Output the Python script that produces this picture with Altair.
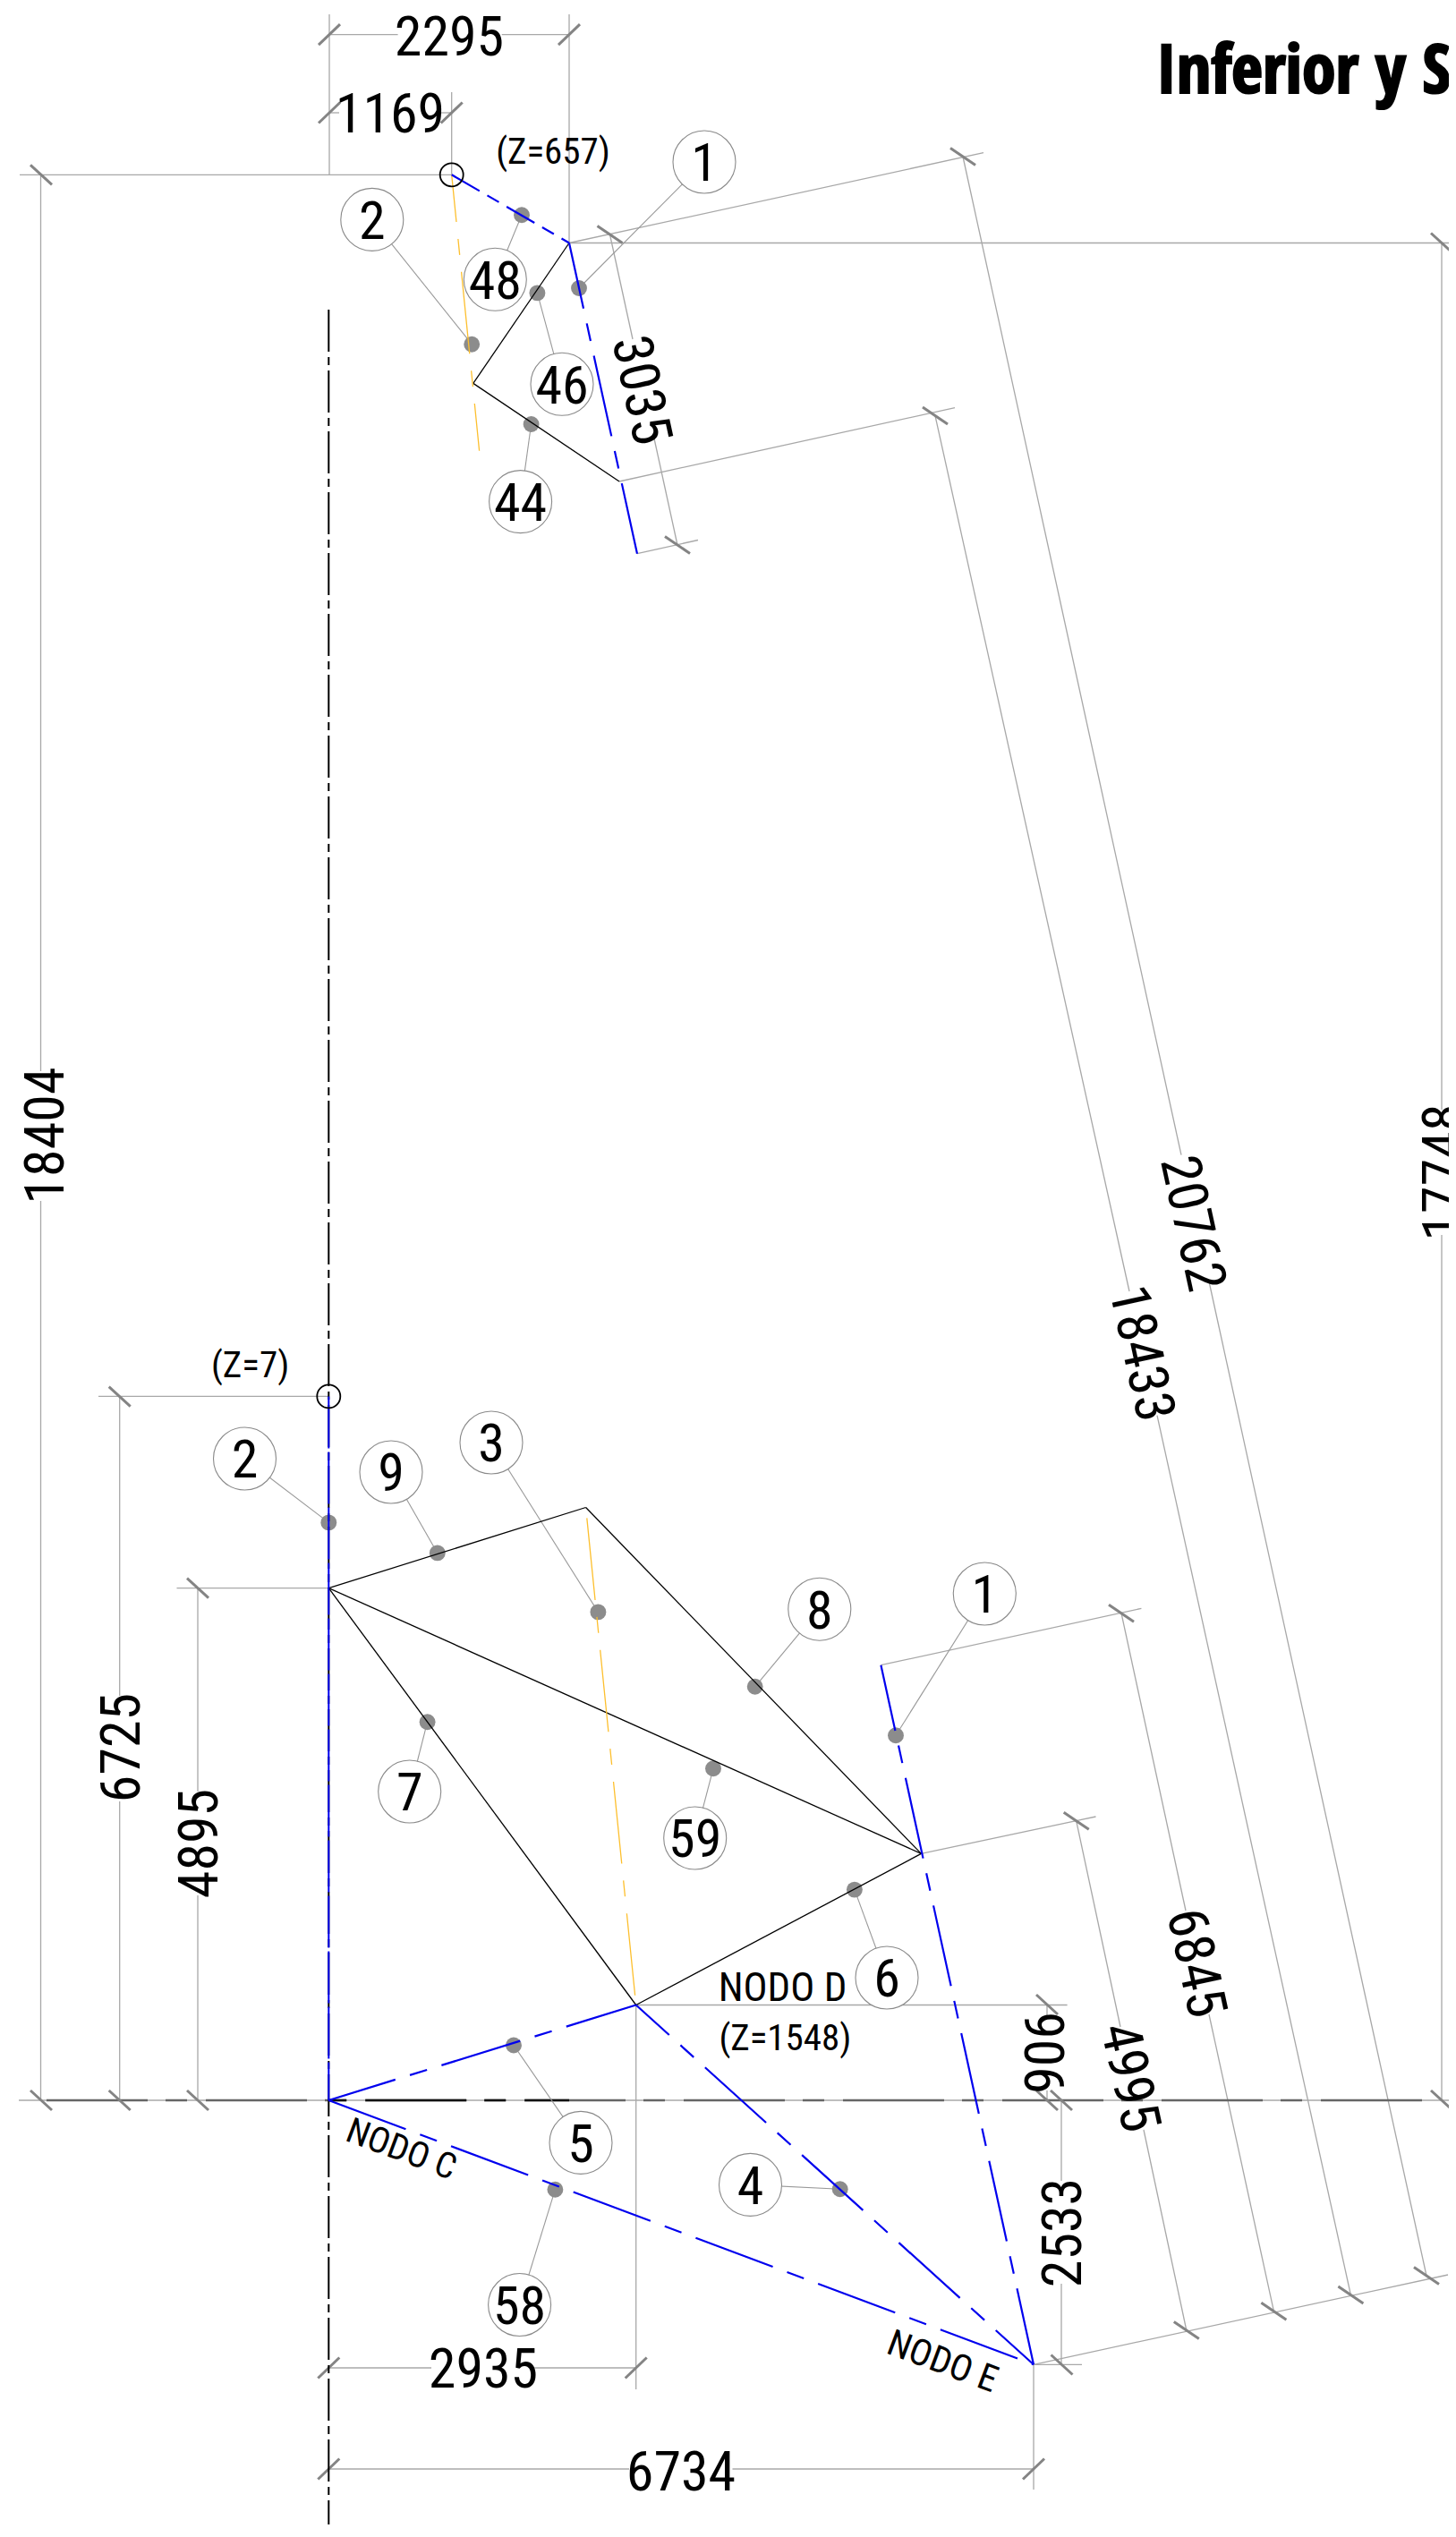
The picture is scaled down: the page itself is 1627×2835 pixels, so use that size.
import math
import altair as alt
import pandas as pd

FONT = "Roboto Condensed"
TITLE_FONT = "Open Sans Condensed"
PAGE_W, PAGE_H = 1627, 2835
MARGIN = 8
CHART_W = 1611
CHART_H = 2813

thin_lines = [
    (22, 195.3, 504.7, 195.3), (636, 271.5, 1627, 271.5), (110, 1560.4, 367.3, 1560.4),
    (197.5, 1774.6, 367.3, 1774.6), (710.7, 2240.5, 1192.6, 2240.5), (21, 2347, 1627, 2347),
    (1155, 2642.3, 1209, 2642.3),
    (368, 16, 368, 195.3), (636, 16, 636, 271.5), (504.7, 103, 504.7, 195.3),
    (710.7, 2240.5, 710.7, 2670), (1155, 2642.3, 1155, 2782),
    (368, 38.7, 444.6, 38.7), (560.7, 38.7, 636, 38.7),
    (368, 126, 379, 126), (491, 126, 504.7, 126),
    (45.5, 195.3, 45.5, 1197), (45.5, 1342, 45.5, 2347),
    (133.7, 1560.6, 133.7, 1895), (133.7, 2013, 133.7, 2347),
    (221, 1774.6, 221, 2002), (221, 2118, 221, 2347),
    (1611, 271.5, 1611, 1240), (1611, 1380, 1611, 2347),
    (1170, 2240.5, 1170, 2252), (1170, 2336, 1170, 2347),
    (1186, 2347, 1186, 2437), (1186, 2552, 1186, 2642.3),
    (367.3, 2646, 482, 2646), (597, 2646, 710.7, 2646),
    (367.3, 2759, 703, 2759), (818.5, 2759, 1155, 2759),
    (636, 271.5, 1099, 170.7), (692, 538, 1067, 455.6),
    (984.4, 1860.7, 1275.4, 1797.3), (1029.4, 2071.4, 1224.5, 2030),
    (1155, 2642.3, 1618, 2542), (712, 618.7, 780, 603.5),
    (1076, 175, 1320, 1290.7), (1351, 1432, 1594, 2543),
    (1045, 464.6, 1262, 1443), (1293, 1581.7, 1509.4, 2564.5),
    (681.5, 262, 707, 379), (731, 490, 757, 609),
    (1253, 1802.7, 1325, 2135), (1351, 2251, 1423.4, 2582.7),
    (1202.7, 2034.8, 1252, 2265), (1278, 2380, 1325.8, 2604),
]

ticks_slash = [(368, 38.7), (636, 38.7), (368, 126), (504.7, 126), (367.3, 2646), (710.7, 2646),
               (367.3, 2759), (1155, 2759)]
ticks_back = [(46, 195.3), (46, 2347), (133.7, 1560.6), (133.7, 2347), (221, 1774.6), (221, 2347),
              (1611, 271.5), (1611, 2347), (1170, 2240), (1170, 2347), (1186, 2347), (1186.5, 2642.5)]
ticks_oblique = [(1076, 175), (681.5, 262), (757, 609), (1045, 464.6), (1253, 1802.7), (1202.7, 2034.8),
                 (1325.8, 2604), (1423.4, 2582.7), (1509.4, 2564.5), (1594, 2543)]

black_lines = [
    (636, 271.5, 528.8, 428.4), (528.8, 428.4, 692, 538),
    (367.3, 1774.6, 654.6, 1684.5), (367.3, 1774.6, 1029.4, 2071.4),
    (654.6, 1684.5, 1029.4, 2071.4), (367.3, 1774.6, 710.7, 2240.5),
    (710.7, 2240.5, 1029.4, 2071.4),
]
blue_long = [
    ((636, 271.5, 712, 618.7), 17),
    ((984.4, 1860.7, 1155, 2642.3), 17),
    ((367.3, 2347, 710.7, 2240.5), 14),
    ((710.7, 2240.5, 1155, 2642.3), 42),
    ((367.3, 2347, 1155, 2642.3), 0),
]
blue_short = [(504.7, 195.3, 636, 271.5)]
blue_axis = [(367.3, 1560.4, 367.3, 2347)]
orange_lines = [
    ((504.7, 195.3, 535.6, 503.8), 39),
    ((654.6, 1684.5, 710.7, 2240.5), 136),
]
center_line = [(367.3, 346, 367.3, 2835)]
base_line = [(52, 2347, 1603, 2347)]
base_line_dark = [(367.3, 2347, 636, 2347)]

balloon_labels = ["1", "2", "48", "46", "44", "2", "9", "3", "7", "59", "8", "1", "6", "5", "58", "4"]
balloon_x = [787, 415.8, 553.3, 628, 581.6, 273.5, 437, 549, 457.7, 776.7, 915.8, 1100.3, 991, 649, 580.6, 838.5]
balloon_y = [181, 245.4, 312.3, 429.3, 560.6, 1630, 1645, 1612, 2002, 2054, 1798.2, 1781, 2210, 2394.4, 2575.5, 2441.4]
dot_x = [647, 527.2, 583, 600.4, 593.6, 367.3, 488.8, 668.4, 477.6, 797, 843.7, 1001, 954.9, 574, 620.4, 938.7]
dot_y = [322, 384.7, 240.3, 327.4, 474, 1701.4, 1735.4, 1801.4, 1924.2, 1976.3, 1884.8, 1939.3, 2111.6, 2285.5, 2446.7, 2446.3]

node_x = [504.7, 367.3]
node_y = [195.3, 1560.4]

text_labels = ["2295", "1169", "18404", "6725", "4895", "17748", "3035", "20762", "18433", "6845", "4995",
               "906", "2533", "2935", "6734",
               "(Z=657)", "(Z=7)", "NODO D", "(Z=1548)", "NODO C", "NODO  E"]
text_x = [502, 436, 48.8, 133.7, 221, 1611, 719, 1335, 1278, 1339, 1265,
          1167.6, 1186, 540, 761,
          618, 279.6, 874.5, 877.4, 449, 1053.7]
text_y = [40, 126, 1269, 1953, 2060, 1310, 435.6, 1366.7, 1512, 2193, 2321,
          2294, 2495, 2645.5, 2761,
          169, 1524.6, 2220, 2277, 2400.5, 2638]
text_angle = [0, 0, 270, 270, 270, 270, 77.7, 77.7, 77.7, 77.7, 77.7,
              90, 270, 0, 0,
              0, 0, 0, 0, 20.5, 20.5]
text_size = [62, 62, 62, 62, 62, 62, 62, 62, 62, 62, 62,
             62, 62, 62, 62,
             41, 41, 45, 41, 40, 41]
BALLOON_SIZE = 60

title_text = "Inferior y Su"
title_x = 1292
title_y = 104

X = alt.Scale(domain=[MARGIN, MARGIN + CHART_W], nice=False, zero=False)
Y = alt.Scale(domain=[MARGIN, MARGIN + CHART_H], nice=False, zero=False, reverse=True)


def segments(rows, **mark):
    df = pd.DataFrame(rows, columns=["x", "y", "x2", "y2"])
    return alt.Chart(df).mark_rule(clip=True, **mark).encode(
        x=alt.X("x:Q", scale=X, axis=None),
        y=alt.Y("y:Q", scale=Y, axis=None),
        x2="x2:Q",
        y2="y2:Q",
    )


def tick_rows(centres, dx, dy):
    return [(cx - dx, cy - dy, cx + dx, cy + dy) for cx, cy in centres]


def points(df, **mark):
    return alt.Chart(df).mark_point(shape="circle", **mark).encode(
        x=alt.X("x:Q", scale=X, axis=None),
        y=alt.Y("y:Q", scale=Y, axis=None),
    )


def glyph_centred(xs, ys, angles, sizes):
    """Shift anchors so that the digits, not the em box, sit on the read-off centre."""
    out_x, out_y = [], []
    for x, y, a, s in zip(xs, ys, angles, sizes):
        r = math.radians(a)
        out_x.append(x - 0.055 * s * math.sin(r))
        out_y.append(y + 0.055 * s * math.cos(r))
    return out_x, out_y


layers = []
layers.append(segments(thin_lines, color="#a8a8a8", strokeWidth=1.3))
layers.append(segments(base_line, color="#666666", strokeWidth=2.6, strokeDash=[113, 20, 24, 21]))
layers.append(segments(base_line_dark, color="#111111", strokeWidth=2.6, strokeDash=[113, 20, 24, 21], strokeDashOffset=137))
layers.append(segments(tick_rows(ticks_slash, 12, -11.5) + tick_rows(ticks_back, 12, 11) + tick_rows(ticks_oblique, 14, 9.5),
                       color="#848484", strokeWidth=3))
leaders = list(zip(balloon_x, balloon_y, dot_x, dot_y))
layers.append(segments(leaders, color="#999999", strokeWidth=1.1))
layers.append(points(pd.DataFrame({"x": dot_x, "y": dot_y}), filled=True, fill="#8c8c8c", stroke="#8c8c8c",
                     strokeWidth=0, size=320, opacity=1))
layers.append(segments(center_line, color="#000000", strokeWidth=2, strokeDash=[47, 6, 9, 6]))
layers.append(segments(black_lines, color="#000000", strokeWidth=1.3))
for line, off in orange_lines:
    layers.append(segments([line], color="#fdbf2d", strokeWidth=1.3, strokeDash=[92, 19, 18, 19], strokeDashOffset=off))
layers.append(segments(blue_axis, color="#0000ee", strokeWidth=2, strokeDash=[58, 4]))
for line, off in blue_long:
    layers.append(segments([line], color="#0000ee", strokeWidth=2.2, strokeDash=[92, 17, 20, 17], strokeDashOffset=off))
layers.append(segments(blue_short, color="#0000ee", strokeWidth=2.2, strokeDash=[36, 10, 15, 10]))
layers.append(points(pd.DataFrame({"x": node_x, "y": node_y}), filled=False, stroke="#000000", strokeWidth=1.8,
                     size=676, opacity=1))
layers.append(points(pd.DataFrame({"x": balloon_x, "y": balloon_y}), filled=True, fill="#ffffff", stroke="#8a8a8a",
                     strokeWidth=1.1, size=4900, opacity=1))

bx, by = glyph_centred(balloon_x, balloon_y, [0] * len(balloon_x), [BALLOON_SIZE] * len(balloon_x))
balloon_df = pd.DataFrame({"t": balloon_labels, "x": bx, "y": by})
layers.append(alt.Chart(balloon_df).mark_text(font=FONT, fontSize=BALLOON_SIZE, color="#000000", align="center", baseline="middle").encode(
    x=alt.X("x:Q", scale=X, axis=None), y=alt.Y("y:Q", scale=Y, axis=None), text="t:N"))

tx, ty = glyph_centred(text_x, text_y, text_angle, text_size)
text_df = pd.DataFrame({"t": text_labels, "x": tx, "y": ty, "a": text_angle, "s": text_size})
layers.append(alt.Chart(text_df).mark_text(font=FONT, color="#000000", align="center", baseline="middle").encode(
    x=alt.X("x:Q", scale=X, axis=None), y=alt.Y("y:Q", scale=Y, axis=None), text="t:N",
    angle=alt.Angle("a:Q", scale=None), size=alt.Size("s:Q", scale=None)))

title_df = pd.DataFrame({"t": [title_text], "x": [title_x], "y": [title_y]})
layers.append(alt.Chart(title_df).mark_text(font=TITLE_FONT, fontSize=76, fontWeight="bold", color="#000000", stroke="#000000",
                                             strokeWidth=2.2, align="left", baseline="alphabetic").encode(
    x=alt.X("x:Q", scale=X, axis=None), y=alt.Y("y:Q", scale=Y, axis=None), text="t:N"))

chart = alt.layer(*layers).properties(
    width=CHART_W,
    height=CHART_H,
    padding=0,
    autosize=alt.AutoSizeParams(type="none"),
    background="#ffffff",
).configure_view(stroke=None)

chart.save("out.html", embed_options={"renderer": "svg", "actions": False})
